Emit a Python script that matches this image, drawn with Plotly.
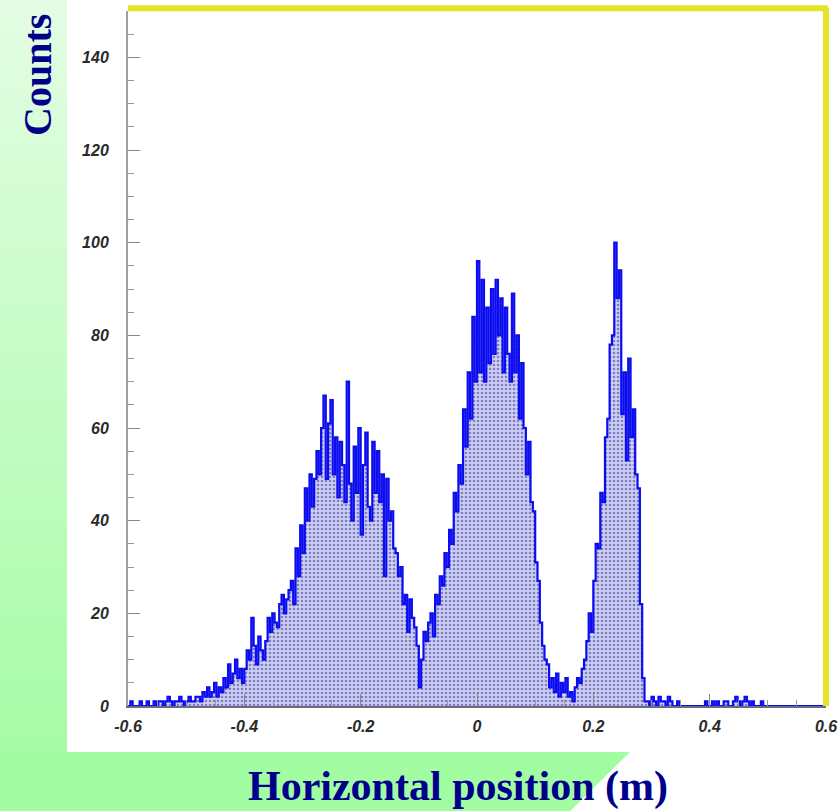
import base64
import numpy as np
import plotly.graph_objects as go

# ---------------- data (histogram, bin width 0.004 m, starting at -0.6 m) ----------------
BIN_START = -0.6
BIN_WIDTH = 0.004
counts = [
    0, 1, 0, 0, 0, 1, 0, 0, 1, 0,
    0, 1, 0, 1, 1, 0, 1, 2, 1, 0,
    1, 1, 2, 1, 0, 1, 2, 1, 1, 2,
    2, 1, 3, 2, 4, 2, 3, 5, 2, 4,
    3, 6, 4, 9, 5, 7, 10, 6, 8, 5,
    8, 12, 10, 19, 13, 9, 15, 12, 10, 14,
    19, 16, 20, 18, 17, 22, 24, 20, 23, 25,
    27, 22, 34, 28, 39, 33, 47, 40, 50, 43,
    49, 55, 50, 60, 67, 49, 61, 66, 50, 58,
    45, 57, 52, 44, 70, 48, 40, 56, 46, 60,
    37, 52, 59, 43, 40, 57, 46, 55, 44, 50,
    28, 49, 40, 42, 34, 33, 28, 30, 22, 24,
    16, 23, 19, 17, 13, 4, 10, 16, 14, 18,
    20, 15, 24, 22, 28, 26, 33, 30, 38, 35,
    46, 42, 52, 48, 64, 56, 72, 62, 84, 70,
    96, 72, 92, 70, 86, 74, 90, 76, 92, 80,
    88, 72, 86, 76, 70, 89, 72, 80, 62, 74,
    60, 50, 57, 44, 42, 31, 27, 18, 13, 10,
    9, 4, 6, 3, 7, 2, 5, 3, 6, 2,
    3, 1, 4, 6, 5, 8, 10, 14, 20, 16,
    27, 35, 34, 46, 44, 58, 62, 78, 80, 100,
    88, 94, 63, 72, 53, 75, 58, 64, 50, 47,
    22, 6, 1, 1, 0, 2, 1, 0, 2, 1,
    1, 0, 2, 1, 0, 0, 1, 0, 0, 0,
    0, 0, 0, 0, 0, 0, 0, 0, 1, 0,
    0, 1, 0, 1, 0, 0, 1, 1, 0, 0,
    1, 2, 1, 0, 1, 2, 1, 0, 1, 0,
    0, 0, 1, 0, 0, 0, 0, 0, 0, 0,
    0, 0, 0, 0, 0, 0, 0, 0, 0, 0,
    0, 0, 0, 0, 0, 0, 0, 0, 0, 0,
]
x_tickvals = [-0.6, -0.4, -0.2, 0.0, 0.2, 0.4, 0.6]
x_ticktext = ["-0.6", "-0.4", "-0.2", "0", "0.2", "0.4", "0.6"]
y_tickvals = [0, 20, 40, 60, 80, 100, 120, 140]
x_title = "Horizontal position (m)"
y_title = "Counts"

# ---------------- figure ----------------
W, H = 840, 811
ML, MR, MT, MB = 128, 14, 11, 105
PW, PH = W - ML - MR, H - MT - MB

edges = BIN_START + BIN_WIDTH * np.arange(len(counts) + 1)
ystep = list(counts) + [counts[-1]]

fig = go.Figure()
fig.add_trace(go.Scatter(
    x=edges, y=ystep, mode="lines", line_shape="hv",
    line=dict(color="#0c0cf0", width=2.2),
    fill="tozeroy",
    fillcolor="#d0d0fa",
    fillpattern=dict(shape=".", bgcolor="#cecefa", fgcolor="#8080b8",
                     size=4, solidity=0.35, fillmode="replace"),
    hoverinfo="skip", showlegend=False,
))

# background decoration (green strips) as an inline SVG image
svg = f'''<svg xmlns="http://www.w3.org/2000/svg" width="{W}" height="{H}" viewBox="0 0 {W} {H}">
<defs><linearGradient id="g" x1="0" y1="0" x2="0" y2="1">
<stop offset="0" stop-color="#e4fde4"/><stop offset="1" stop-color="#a2fba2"/></linearGradient></defs>
<rect x="0" y="0" width="{W}" height="{H}" fill="#ffffff"/>
<rect x="0" y="0" width="67" height="{H}" fill="url(#g)"/>
<polygon points="0,752 630,752 570,{H} 0,{H}" fill="#a2fca2"/>
</svg>'''
src = "data:image/svg+xml;base64," + base64.b64encode(svg.encode()).decode()
fig.add_layout_image(dict(
    source=src, xref="paper", yref="paper",
    x=-ML / PW, y=1 + MT / PH, sizex=W / PW, sizey=H / PH,
    xanchor="left", yanchor="top", sizing="stretch", layer="below",
))

tickfont = dict(family="Liberation Sans, Arial, sans-serif", size=16,
                color="#2a2a2a", weight="bold", style="italic")

fig.update_xaxes(
    range=[-0.6, 0.6], tickvals=x_tickvals, ticktext=x_ticktext,
    ticks="inside", ticklen=12, tickwidth=1, tickcolor="#888",
    minor=dict(dtick=0.05, tick0=-0.6, ticks="inside", ticklen=6, tickcolor="#999"),
    showline=True, linecolor="#6a6a7a", linewidth=2, automargin=False,
    showgrid=False, zeroline=False, tickfont=tickfont, ticklabelstandoff=5,
)
fig.update_yaxes(
    range=[0, 150], tickvals=y_tickvals,
    ticks="inside", ticklen=12, tickwidth=1, tickcolor="#888",
    minor=dict(dtick=5, tick0=0, ticks="inside", ticklen=6, tickcolor="#999"),
    showline=True, linecolor="#a0a0a0", linewidth=2, automargin=False,
    showgrid=False, zeroline=False, tickfont=tickfont, ticklabelstandoff=14,
)

# yellow frame (top and right)
fig.add_shape(type="line", xref="paper", yref="paper", x0=0, x1=1.003,
              y0=1.004, y1=1.004, line=dict(color="#e4e428", width=6))
fig.add_shape(type="line", xref="paper", yref="paper", x0=1.0, x1=1.0,
              y0=0, y1=1.004, line=dict(color="#e4e428", width=6))

titlefont = dict(family="Liberation Serif, Times New Roman, serif", size=40,
                 color="#00008b", weight="bold")
fig.add_annotation(text=y_title, xref="paper", yref="paper",
                   x=(38 - ML) / PW, y=(MT + PH - 75) / PH, textangle=-90,
                   showarrow=False, xanchor="center", yanchor="middle", font=titlefont)
fig.add_annotation(text=x_title, xref="paper", yref="paper",
                   x=(458 - ML) / PW, y=(MT + PH - 786) / PH,
                   showarrow=False, xanchor="center", yanchor="middle",
                   font=dict(titlefont, size=42))

fig.update_layout(
    width=W, height=H, margin=dict(l=ML, r=MR, t=MT, b=MB),
    paper_bgcolor="#ffffff", plot_bgcolor="rgba(0,0,0,0)",
)
fig.write_html("out.html")
